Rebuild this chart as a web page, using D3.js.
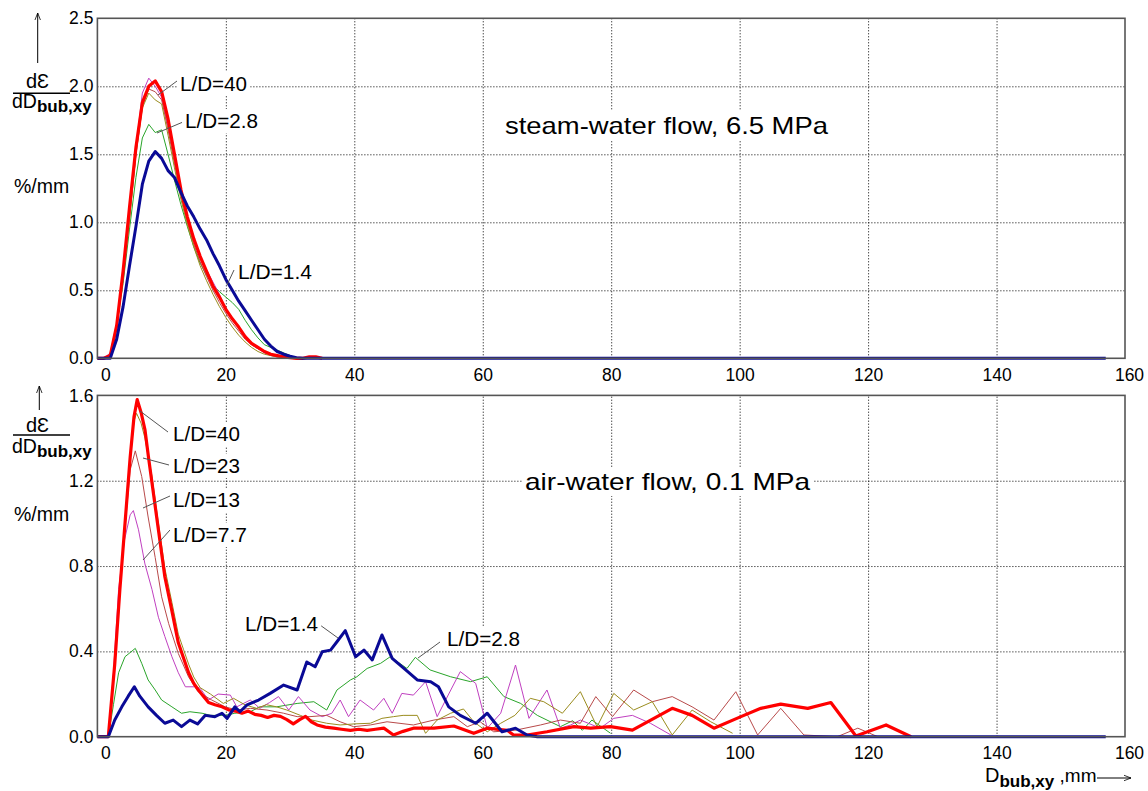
<!DOCTYPE html>
<html><head><meta charset="utf-8">
<script src="https://cdn.jsdelivr.net/npm/d3@7"></script>
<style>
body{margin:0;background:#fff}
svg text{font-family:"Liberation Sans",Arial,sans-serif;fill:#000}
</style></head><body>
<svg id="c" width="1148" height="791"></svg>
<script>
// ---------------- data ----------------
const xTicks = [0,20,40,60,80,100,120,140,160];
const topYTicks = [0,0.5,1.0,1.5,2.0,2.5];
const botYTicks = [0,0.4,0.8,1.2,1.6];
const seriesNames = ["L/D=1.4","L/D=2.8","L/D=7.7","L/D=13","L/D=23","L/D=40"];

// steam-water flow, 6.5 MPa (D in mm, dε/dD in %/mm)
const topX = [0,1,2,3,4,5,6,7,8,9,10,11,12,13,14,15,16,17,18,19,20,21,22,23,24,25,26,27,28,29,30,31,32,33,34,35];
const topRed     = [0,0,0.02,0.24,0.64,1.11,1.55,1.88,2.0,2.04,1.96,1.76,1.5,1.24,1.04,0.88,0.75,0.64,0.53,0.45,0.36,0.29,0.23,0.16,0.11,0.08,0.05,0.03,0.02,0.01,0.005,0,0,0.01,0.01,0];
const topOlive   = [0,0,0.03,0.24,0.6,1.02,1.5,1.84,1.95,1.9,1.87,1.64,1.4,1.17,0.98,0.82,0.68,0.57,0.47,0.38,0.3,0.23,0.17,0.12,0.08,0.05,0.03,0.02,0.01,0.005,0,0,0,0,0,0];
const topMagenta = [0,0,0.04,0.26,0.64,1.08,1.55,1.95,2.06,2.0,1.92,1.7,1.46,1.22,1.03,0.87,0.75,0.65,0.56,0.47,0.36,0.3,0.22,0.15,0.1,0.07,0.04,0.02,0.01,0.005,0,0,0,0,0,0];
const topBrown   = [0,0,0.03,0.24,0.6,1.03,1.5,1.85,1.98,1.96,1.9,1.68,1.43,1.2,1.0,0.84,0.71,0.6,0.5,0.41,0.33,0.26,0.2,0.14,0.1,0.07,0.05,0.03,0.02,0.01,0,0,0,0,0,0];
const topGreen   = [0,0,0.03,0.24,0.55,0.95,1.33,1.62,1.72,1.66,1.68,1.5,1.31,1.13,0.97,0.82,0.7,0.61,0.54,0.49,0.45,0.41,0.36,0.28,0.21,0.15,0.1,0.08,0.06,0.04,0.02,0,0,0,0,0];
const topBlue    = [0,0,0,0.14,0.38,0.68,0.97,1.28,1.45,1.52,1.47,1.38,1.33,1.22,1.12,1.04,0.95,0.87,0.77,0.68,0.58,0.5,0.42,0.35,0.28,0.21,0.14,0.09,0.05,0.03,0.015,0.005,0,0,0,0];
const topBlueTailX = [157];
const topBlueTailY = [0];

// air-water flow, 0.1 MPa
const botRedX = [0,1,1.7,2.7,3.5,4.3,5.1,5.7,6.2,6.8,7.4,8,8.5,9.5,10.5,11.6,12.6,13.4,14.2,15,15.7,16.5,17.3,18.3,19.4,20.5,21.5,22.5,23.5,24.5,25.5,26.5,27.5,28.5,29.5,30.5,31.5,32.4,33.3,34.2,35.5,36.8,38,39.4,40.7,42,43.3,44.6,46.1,47.6,49.2,52.4,55.5,58.6,60.7,63.8,64.8,66.9,70,74.2,76.8,79.9,83.3,89.5,92.6,96,100.2,103.3,106.4,110.6,114.2,118.1,122.8,126.7];
const botRedY = [0,0,0,0.34,0.69,1.0,1.31,1.5,1.58,1.52,1.44,1.3,1.19,0.97,0.75,0.59,0.44,0.37,0.3,0.25,0.22,0.19,0.16,0.15,0.14,0.125,0.12,0.11,0.12,0.105,0.1,0.09,0.1,0.095,0.08,0.06,0.08,0.095,0.07,0.055,0.045,0.04,0.035,0.03,0.035,0.03,0.035,0.04,0.008,0.025,0.04,0.04,0.05,0.016,0.04,0.03,0.008,0.008,0.023,0.047,0.04,0.047,0.031,0.133,0.1,0.04,0.094,0.133,0.153,0.133,0.16,0.003,0.055,0];
const botBlueX = [0,1,1.7,2.7,3.8,4.8,5.75,6.6,7.9,9.2,10.5,11.8,13.1,14.4,15.6,16.8,18.3,19.4,20.2,21.4,22.2,23.3,25.1,26.9,29,31.1,32.6,33.9,35,36.3,37.3,38.6,40.2,41.5,42.8,44.3,45.9,48,49.8,51.9,53.1,54.7,56.5,58.9,60.7,63,65.1,66.9,68.5,157];
const botBlueY = [0,0,0,0.078,0.14,0.19,0.234,0.19,0.14,0.1,0.063,0.078,0.047,0.078,0.06,0.1,0.094,0.11,0.086,0.14,0.117,0.149,0.172,0.203,0.242,0.219,0.35,0.328,0.398,0.406,0.445,0.497,0.375,0.406,0.36,0.477,0.367,0.313,0.266,0.258,0.234,0.14,0.10,0.063,0.11,0.023,0.04,0.008,0,0];
const botGreenX = [0,1,1.7,2.5,3.3,4.3,5.9,6.9,7.9,9,10,11.6,13.1,14.4,16.3,17.6,19.9,21.4,23.8,25.3,27.9,31.1,33.7,35.7,37.3,39.4,40.4,42,44.1,45.6,48.2,49.5,51.8,55,58.1,60.7,63.3,65.9,68.5,72.1,74,75.5,77,79.9];
const botGreenY = [0,0,0,0.15,0.30,0.375,0.414,0.344,0.266,0.219,0.172,0.14,0.11,0.117,0.11,0.10,0.10,0.11,0.117,0.14,0.14,0.156,0.164,0.125,0.219,0.266,0.281,0.32,0.344,0.375,0.32,0.372,0.313,0.281,0.258,0.281,0.188,0.156,0.10,0.047,0.075,0.03,0.078,0.016];
const botMagX = [0,1,1.7,2.5,3.3,4.2,5.1,5.6,6.4,7.4,8.5,9.5,10.5,11.6,12.6,13.7,15.2,16,17.3,18.8,20.7,21.7,23.8,25.3,26.8,28.2,29.8,31.3,33.1,35,36.5,37.8,39.1,40.9,43,44.6,45.9,47.4,49.2,51.1,52.9,54.7,56.5,58.9,60.7,62.8,65.1,67.2,70,72.1,73.7,75.2,78.3,80.4,83.3,86.1,89.3];
const botMagY = [0,0,0,0.3,0.69,0.92,1.04,1.06,0.97,0.81,0.69,0.56,0.47,0.375,0.30,0.234,0.234,0.227,0.172,0.2,0.195,0.14,0.172,0.133,0.16,0.188,0.125,0.188,0.125,0.094,0.11,0.172,0.094,0.172,0.125,0.18,0.11,0.203,0.195,0.258,0.094,0.2,0.305,0.25,0.04,0.11,0.336,0.086,0.219,0.04,0.055,0.078,0.04,0.086,0.10,0.063,0.008];
const botOliveX = [0,1,1.7,2.7,3.5,4.3,5.1,5.7,6.1,6.8,7.4,8,8.5,9.5,10.5,11.6,12.6,13.4,14.2,15,16,17.6,19.6,21.2,23,24.8,26.3,27.9,29.5,31.6,33.4,35.7,37.8,40,42.5,44.3,46.1,47.6,49.8,51.1,52.9,55,57,58.6,60.7,62.8,65,67.4,69.5,72.4,75.2,77.8,80.4,83.5,86.4,89.5,92.6,95.5,98.9];
const botOliveY = [0,0,0,0.33,0.68,0.99,1.3,1.48,1.516,1.47,1.4,1.3,1.22,1.0,0.79,0.63,0.48,0.41,0.34,0.28,0.23,0.2,0.156,0.18,0.149,0.133,0.15,0.14,0.125,0.10,0.078,0.063,0.055,0.06,0.063,0.086,0.094,0.1,0.10,0.016,0.078,0.11,0.13,0.07,0.023,0.063,0.1,0.18,0.164,0.11,0.211,0.047,0.203,0.125,0.164,0.008,0.125,0.07,0.016];
const botBrownX = [0,1,1.7,2.7,3.5,4.3,5.1,5.9,6.9,7.9,9,10,11.1,12.6,14.2,15.7,17.8,19.9,21.7,23.8,26.4,29,31.1,33.1,35.7,37.8,39.9,42.5,45.1,49.2,52.4,55.5,57.6,59.6,61.7,65,69,72.1,75.2,77.6,80.2,83.5,86.4,89.5,92.6,96,99.4,102.8,106.4,110,115.2,118.4,121.5];
const botBrownY = [0,0,0,0.33,0.68,0.98,1.25,1.34,1.22,1.03,0.84,0.656,0.53,0.39,0.28,0.21,0.172,0.14,0.125,0.133,0.125,0.11,0.094,0.094,0.10,0.07,0.047,0.055,0.07,0.055,0.078,0.094,0.047,0.07,0.023,0.03,0.055,0.078,0.063,0.188,0.094,0.219,0.164,0.188,0.14,0.078,0.211,0.008,0.133,0.008,0,0.04,0];

// ---------------- drawing ----------------
const svg = d3.select("#c");
const FONT = '"Liberation Sans",Arial,sans-serif';
const x = d3.scaleLinear().domain([0,160]).range([97.4,1125]);

const style = {
  "L/D=1.4": {color:"#0a0a96", w:3},
  "L/D=2.8": {color:"#2aa52a", w:1},
  "L/D=7.7": {color:"#c040c0", w:1},
  "L/D=13":  {color:"#b84a4a", w:1},
  "L/D=23":  {color:"#9a8c1e", w:1},
  "L/D=40":  {color:"#ff0000", w:3.2}
};

function zip(xs, ys){ return xs.map((d,i)=>[d, ys[i]]); }

const panels = [
  { y: d3.scaleLinear().domain([0,2.5]).range([358.3,18.3]), yTicks: topYTicks,
    series: [
      ["L/D=2.8", zip(topX, topGreen)],
      ["L/D=7.7", zip(topX, topMagenta)],
      ["L/D=13",  zip(topX, topBrown)],
      ["L/D=23",  zip(topX, topOlive)],
      ["L/D=40",  zip(topX, topRed)],
      ["L/D=1.4", zip(topX, topBlue).concat(zip(topBlueTailX, topBlueTailY))]
    ]},
  { y: d3.scaleLinear().domain([0,1.6]).range([736.7,395.4]), yTicks: botYTicks,
    series: [
      ["L/D=2.8", zip(botGreenX, botGreenY)],
      ["L/D=7.7", zip(botMagX, botMagY)],
      ["L/D=13",  zip(botBrownX, botBrownY)],
      ["L/D=23",  zip(botOliveX, botOliveY)],
      ["L/D=40",  zip(botRedX, botRedY)],
      ["L/D=1.4", zip(botBlueX, botBlueY)]
    ]}
];

// arrow markers
const defs = svg.append("defs");
defs.append("marker").attr("id","ah").attr("viewBox","0 0 10 10").attr("refX",9).attr("refY",5)
  .attr("markerWidth",8).attr("markerHeight",8).attr("orient","auto").attr("markerUnits","userSpaceOnUse")
  .append("path").attr("d","M0,1.5 L9,5 L0,8.5").attr("fill","none").attr("stroke","#000").attr("stroke-width",1);

panels.forEach((p, pi) => {
  const y = p.y;
  const [y0, y1] = y.range();
  const g = svg.append("g");

  // grid
  const gx = g.append("g").attr("transform",`translate(0,${y0})`)
    .call(d3.axisBottom(x).tickValues(xTicks.slice(1,-1)).tickSize(-(y0-y1)).tickFormat(""));
  const gy = g.append("g").attr("transform",`translate(${x(0)},0)`)
    .call(d3.axisLeft(y).tickValues(p.yTicks.slice(1,-1)).tickSize(-(x(160)-x(0))).tickFormat(""));
  [gx,gy].forEach(a=>{ a.select(".domain").remove();
    a.selectAll("line").attr("stroke","#000").attr("stroke-width",1).attr("stroke-dasharray","1,2"); });

  // curves
  const line = d3.line().x(d=>x(d[0])).y(d=>y(d[1]));
  p.series.forEach(([name, pts]) => {
    g.append("path").datum(pts).attr("d", line).attr("fill","none")
      .attr("stroke", style[name].color).attr("stroke-width", style[name].w)
      .attr("stroke-linejoin","round");
  });

  // frame
  g.append("rect").attr("x",x(0)).attr("y",y1).attr("width",x(160)-x(0)).attr("height",y0-y1)
    .attr("fill","none").attr("stroke","#555").attr("stroke-width",1.6);

  // tick labels
  const ax = g.append("g").attr("transform",`translate(0,${y0})`)
    .call(d3.axisBottom(x).tickValues(xTicks).tickSize(0).tickPadding(10).tickFormat(d3.format("d")));
  ax.select(".domain").remove();
  ax.selectAll("text").attr("font-family",FONT).attr("font-size",17.5).attr("fill","#000")
    .attr("dx", d => d===0 ? 8 : (d===160 ? 4 : 0));
  const ay = g.append("g").attr("transform",`translate(${x(0)},0)`)
    .call(d3.axisLeft(y).tickValues(p.yTicks).tickSize(0).tickPadding(4).tickFormat(d3.format(".1f")));
  ay.select(".domain").remove();
  ay.selectAll("text").attr("font-family",FONT).attr("font-size",17.5).attr("fill","#000");
});

// boxed labels
function boxed(tx, ty, str, size, len){
  const g = svg.append("g");
  const t = g.append("text").attr("x",tx).attr("y",ty).attr("font-size",size).text(str);
  if(len) t.attr("textLength",len).attr("lengthAdjust","spacingAndGlyphs");
  const b = t.node().getBBox();
  g.insert("rect","text").attr("x",b.x-3).attr("y",b.y-1).attr("width",b.width+6).attr("height",b.height+2).attr("fill","#fff");
}
function leader(x1,y1,x2,y2){
  svg.append("line").attr("x1",x1).attr("y1",y1).attr("x2",x2).attr("y2",y2)
    .attr("stroke","#555").attr("stroke-width",1);
}

// titles
boxed(505, 134, "steam-water flow, 6.5 MPa", 24, 323);
boxed(525, 490, "air-water flow, 0.1 MPa", 24, 285);

// top annotations
leader(158,95,177,81); boxed(180, 91, "L/D=40", 19.5, 67);
leader(157,133,183,122); boxed(185, 128, "L/D=2.8", 19.5, 73);
leader(227,285,234,270); boxed(238, 279, "L/D=1.4", 19.5, 74);

// bottom annotations
leader(140,411,168,432); boxed(173, 441, "L/D=40", 19.5, 67);
leader(143,458,169,465); boxed(173, 473, "L/D=23", 19.5, 67);
leader(143,508,170,496); boxed(173, 507, "L/D=13", 19.5, 67);
leader(143,560,170,530); boxed(173, 542, "L/D=7.7", 19.5, 74);
leader(320,625,338,638); boxed(245, 631, "L/D=1.4", 19.5, 73);
leader(440,642,418,658); boxed(447, 646, "L/D=2.8", 19.5, 73);

// y-axis labels
function yLabel(ax, ayTop, ayBot, dEy, barY, dDy, pmY){
  svg.append("line").attr("x1",ax).attr("y1",ayBot).attr("x2",ax).attr("y2",ayTop)
    .attr("stroke","#000").attr("stroke-width",1).attr("marker-end","url(#ah)");
  svg.append("text").attr("x",26).attr("y",dEy).attr("font-size",20).text("d\u0190");
  svg.append("line").attr("x1",13).attr("x2",70).attr("y1",barY).attr("y2",barY).attr("stroke","#000").attr("stroke-width",1.4);
  const t = svg.append("text").attr("x",12).attr("y",dDy).attr("font-size",19.5).text("dD");
  t.append("tspan").attr("dy",4).attr("font-size",17).attr("font-weight","bold").text("bub,xy");
  svg.append("text").attr("x",14).attr("y",pmY).attr("font-size",19.5).text("%/mm");
}
yLabel(37.7, 13, 63, 88, 93.3, 108, 193);
yLabel(39.3, 386, 410, 432, 435, 453, 521);

// x-axis label
const xl = svg.append("text").attr("x",985).attr("y",782).attr("font-size",20).text("D");
xl.append("tspan").attr("dy",5).attr("font-size",17).attr("font-weight","bold").text("bub,xy");
xl.append("tspan").attr("dy",-5).attr("font-size",19).text(" ,mm");
svg.append("line").attr("x1",1097).attr("y1",778).attr("x2",1131).attr("y2",778)
  .attr("stroke","#000").attr("stroke-width",1).attr("marker-end","url(#ah)");
</script>
</body></html>
